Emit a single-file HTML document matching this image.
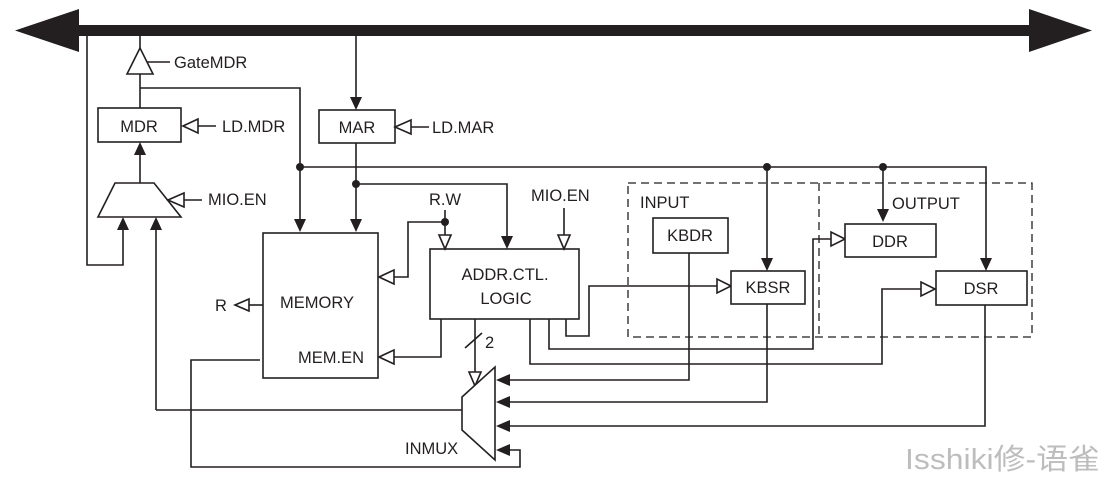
<!DOCTYPE html>
<html><head><meta charset="utf-8"><style>
body{margin:0;background:#fff;width:1110px;height:481px;overflow:hidden}
svg text{font-family:"Liberation Sans",sans-serif;font-size:16.5px;fill:#231f20}
</style></head><body>
<svg width="1110" height="481" viewBox="0 0 1110 481" xmlns="http://www.w3.org/2000/svg">
<g stroke="#231f20" stroke-width="1.6" fill="none">
<rect x="76" y="25" width="956" height="11" fill="#231f20" stroke="none"/>
<polygon points="15,30.5 79,9 79,52" fill="#231f20" stroke="none"/>
<polygon points="1092,30.5 1029,9 1029,52" fill="#231f20" stroke="none"/>
<polyline points="87,36 87,265 123,265 123,230"/>
<polygon points="123,217 117,230 129,230" fill="#231f20" stroke="none"/>
<line x1="140" y1="36" x2="140" y2="48"/>
<polygon points="140,48 127,74 153,74" fill="#fff"/>
<line x1="147" y1="62" x2="170" y2="62"/>
<line x1="140" y1="74" x2="140" y2="108"/>
<polyline points="140,88 300,88 300,220"/>
<polygon points="300,232 294,219 306,219" fill="#231f20" stroke="none"/>
<rect x="98" y="108" width="83" height="34"/>
<polygon points="183,126 198,119 198,133" fill="#fff"/>
<line x1="198" y1="126" x2="216" y2="126"/>
<line x1="140" y1="183" x2="140" y2="155"/>
<polygon points="140,142 134,155 146,155" fill="#231f20" stroke="none"/>
<polygon points="115,183 154,183 181,217 98,217" fill="#fff"/>
<polygon points="168,200 184,193 184,207" fill="#fff"/>
<line x1="184" y1="200" x2="202" y2="200"/>
<polyline points="156,410 156,230"/>
<polygon points="156,217 150,230 162,230" fill="#231f20" stroke="none"/>
<line x1="356" y1="36" x2="356" y2="98"/>
<polygon points="356,110 350,97 362,97" fill="#231f20" stroke="none"/>
<rect x="319" y="110" width="76" height="33"/>
<polygon points="395,127 411,120 411,134" fill="#fff"/>
<line x1="411" y1="127" x2="429" y2="127"/>
<line x1="356" y1="143" x2="356" y2="220"/>
<polygon points="356,232 350,219 362,219" fill="#231f20" stroke="none"/>
<polyline points="356,184 507,184 507,236"/>
<polygon points="507,249 501,236 513,236" fill="#231f20" stroke="none"/>
<circle cx="356" cy="184" r="4" fill="#231f20" stroke="none"/>
<polyline points="300,167 986,167 986,259"/>
<polygon points="986,271 980,258 992,258" fill="#231f20" stroke="none"/>
<circle cx="300" cy="167" r="4" fill="#231f20" stroke="none"/>
<line x1="767" y1="167" x2="767" y2="259"/>
<polygon points="767,271 761,258 773,258" fill="#231f20" stroke="none"/>
<circle cx="767" cy="167" r="4" fill="#231f20" stroke="none"/>
<line x1="883" y1="167" x2="883" y2="210"/>
<polygon points="883,222 877,209 889,209" fill="#231f20" stroke="none"/>
<circle cx="883" cy="167" r="4" fill="#231f20" stroke="none"/>
<rect x="263" y="233" width="115" height="145"/>
<line x1="263" y1="305" x2="249" y2="305"/>
<polygon points="235,305 249,299 249,311" fill="#fff"/>
<line x1="445" y1="210" x2="445" y2="235"/>
<circle cx="445" cy="222" r="4" fill="#231f20" stroke="none"/>
<polygon points="445,249 439,235 451,235" fill="#fff"/>
<polyline points="445,222 408,222 408,277 394,277"/>
<polygon points="379,277 394,270 394,284" fill="#fff"/>
<line x1="564" y1="208" x2="564" y2="235"/>
<polygon points="564,249 558,235 570,235" fill="#fff"/>
<rect x="430" y="249" width="149" height="70"/>
<polyline points="441,319 441,357 394,357"/>
<polygon points="379,357 394,350 394,364" fill="#fff"/>
<line x1="475" y1="319" x2="475" y2="372"/>
<line x1="465" y1="348" x2="482" y2="333"/>
<polygon points="475,386 469,372 481,372" fill="#fff"/>
<polyline points="566,319 566,336 589,336 589,286 717,286"/>
<polygon points="731,286 717,279 717,293" fill="#fff"/>
<polyline points="549,319 549,349 813,349 813,239 831,239"/>
<polygon points="845,239 831,232 831,246" fill="#fff"/>
<polyline points="530,319 530,364 882,364 882,289 921,289"/>
<polygon points="935,289 921,282 921,296" fill="#fff"/>
<rect x="628" y="183" width="404" height="154" stroke-dasharray="8,5" stroke-width="1.3"/>
<line x1="819" y1="183" x2="819" y2="337" stroke-dasharray="8,5" stroke-width="1.3"/>
<rect x="653" y="218" width="75" height="35" fill="#fff"/>
<rect x="731" y="271" width="74" height="33" fill="#fff"/>
<rect x="845" y="224" width="91" height="33" fill="#fff"/>
<rect x="936" y="271" width="91" height="34" fill="#fff"/>
<polygon points="495,367 495,460 462,430 462,397" fill="#fff"/>
<line x1="462" y1="410" x2="156" y2="410"/>
<polyline points="689,253 689,380 510,380"/>
<polygon points="496,380 510,374 510,386" fill="#231f20" stroke="none"/>
<polyline points="767,304 767,402 510,402"/>
<polygon points="496,402 510,396 510,408" fill="#231f20" stroke="none"/>
<polyline points="985,305 985,426 510,426"/>
<polygon points="496,426 510,420 510,432" fill="#231f20" stroke="none"/>
<polyline points="260,360 191,360 191,467 520,467 520,450 510,450"/>
<polygon points="496,450 510,444 510,456" fill="#231f20" stroke="none"/>
</g>
<text x="174" y="68">GateMDR</text>
<text x="139" y="132" text-anchor="middle">MDR</text>
<text x="222" y="132">LD.MDR</text>
<text x="208" y="205">MIO.EN</text>
<text x="357" y="133" text-anchor="middle">MAR</text>
<text x="432" y="133">LD.MAR</text>
<text x="317" y="308" text-anchor="middle">MEMORY</text>
<text x="298" y="363">MEM.EN</text>
<text x="215" y="311">R</text>
<text x="429" y="205">R.W</text>
<text x="531" y="201">MIO.EN</text>
<text x="505" y="280" text-anchor="middle">ADDR.CTL.</text>
<text x="506" y="304" text-anchor="middle">LOGIC</text>
<text x="485" y="348">2</text>
<text x="405" y="454">INMUX</text>
<text x="640" y="208">INPUT</text>
<text x="892" y="209">OUTPUT</text>
<text x="690" y="241" text-anchor="middle">KBDR</text>
<text x="768" y="293" text-anchor="middle">KBSR</text>
<text x="890" y="247" text-anchor="middle">DDR</text>
<text x="981" y="294" text-anchor="middle">DSR</text>
<text x="905" y="469" textLength="195" lengthAdjust="spacingAndGlyphs" style="font-family:'Liberation Sans','Noto Sans CJK SC',sans-serif;font-size:29px;fill:#bdbdbd">Isshiki修-语雀</text>
</svg>
</body></html>
